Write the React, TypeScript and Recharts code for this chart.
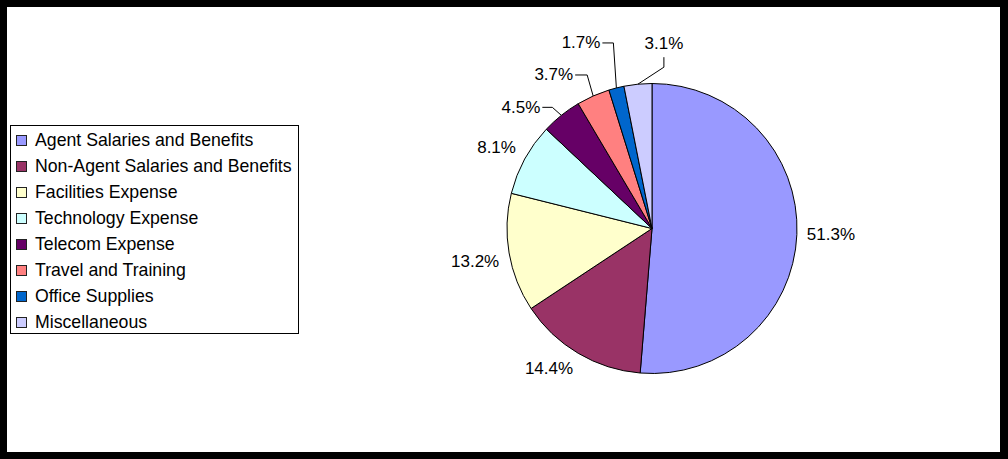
import React from 'react';
import { PieChart, Pie, Cell, Legend } from 'recharts';

const categories = [
  'Agent Salaries and Benefits',
  'Non-Agent Salaries and Benefits',
  'Facilities Expense',
  'Technology Expense',
  'Telecom Expense',
  'Travel and Training',
  'Office Supplies',
  'Miscellaneous',
];
const values = [51.3, 14.4, 13.2, 8.1, 4.5, 3.7, 1.7, 3.1];
const valueLabels = ['51.3%', '14.4%', '13.2%', '8.1%', '4.5%', '3.7%', '1.7%', '3.1%'];
const colors = ['#9999FF', '#993366', '#FFFFCC', '#CCFFFF', '#660066', '#FF8080', '#0066CC', '#CCCCFF'];

const data = categories.map((name, i) => ({ name, value: values[i], label: valueLabels[i] }));

const FONT = '"Liberation Sans", Arial, sans-serif';
const RAD = Math.PI / 180;

// label layout: leader lines for small slices (elbow offset from slice edge, then tail)
const leaders: Record<number, { elbow: [number, number]; tail: [number, number]; anchor: 'end' | 'middle' }> = {
  4: { elbow: [-9, -8], tail: [-10, 0], anchor: 'end' },
  5: { elbow: [-6, -21], tail: [-12, 0], anchor: 'end' },
  6: { elbow: [-3, -45], tail: [-11, 0], anchor: 'end' },
  7: { elbow: [26, -17], tail: [0, -10], anchor: 'middle' },
};

const renderLabel = (props: any) => {
  const { cx, cy, midAngle, outerRadius, index } = props;
  const cos = Math.cos(-midAngle * RAD);
  const sin = Math.sin(-midAngle * RAD);
  const text = valueLabels[index];
  const ld = leaders[index];
  if (!ld) {
    const r = outerRadius + 10;
    const x = cx + r * cos;
    const y = cy + r * sin + (sin > 0.1 ? 6.5 : sin < -0.1 ? -6.5 : 0);
    const anchor = cos > 0.1 ? 'start' : cos < -0.1 ? 'end' : 'middle';
    return (
      <text x={x} y={y} textAnchor={anchor} dominantBaseline="central" fontFamily={FONT} fontSize={17} fill="#000">
        {text}
      </text>
    );
  }
  const ex = cx + outerRadius * cos;
  const ey = cy + outerRadius * sin;
  const bx = ex + ld.elbow[0];
  const by = ey + ld.elbow[1];
  const tx = bx + ld.tail[0];
  const ty = by + ld.tail[1];
  let textX = tx - 2;
  let textY = ty;
  if (ld.anchor === 'middle') {
    textX = tx;
    textY = ty - 14;
  }
  return (
    <g>
      <polyline points={`${ex},${ey} ${bx},${by} ${tx},${ty}`} fill="none" stroke="#000" strokeWidth={1} />
      <text x={textX} y={textY} textAnchor={ld.anchor} dominantBaseline="central" fontFamily={FONT} fontSize={17} fill="#000">
        {text}
      </text>
    </g>
  );
};

const renderLegend = () => (
  <div
    style={{
      boxSizing: 'border-box',
      width: 289,
      height: 209,
      border: '1px solid #000',
      background: '#fff',
      paddingTop: 1,
      fontFamily: FONT,
      fontSize: 17.7,
      color: '#000',
    }}
  >
    {categories.map((c, i) => (
      <div key={c} style={{ height: 26, display: 'flex', alignItems: 'center', whiteSpace: 'nowrap' }}>
        <span
          style={{
            display: 'inline-block',
            width: 9,
            height: 9,
            background: colors[i],
            border: '1px solid #222',
            marginLeft: 5,
            marginRight: 8,
          }}
        />
        <span>{c}</span>
      </div>
    ))}
  </div>
);

export default function App() {
  return (
    <div style={{ position: 'fixed', left: 0, top: 0, width: 1008, height: 459, background: '#000' }}>
      <div style={{ position: 'absolute', left: 7, top: 7, width: 993, height: 445, background: '#fff' }}>
        <PieChart width={993} height={445} margin={{ top: 0, right: 0, bottom: 0, left: 0 }}>
          <Pie
            data={data}
            dataKey="value"
            nameKey="name"
            cx={645}
            cy={221.5}
            outerRadius={145}
            startAngle={90}
            endAngle={-270}
            stroke="#000"
            strokeWidth={1}
            label={renderLabel}
            labelLine={false}
            isAnimationActive={false}
          >
            {data.map((d, i) => (
              <Cell key={d.name} fill={colors[i]} />
            ))}
          </Pie>
          <Legend
            content={renderLegend}
            layout="vertical"
            wrapperStyle={{ position: 'absolute', left: 3, top: 118, width: 289, height: 209 }}
          />
        </PieChart>
      </div>
    </div>
  );
}
